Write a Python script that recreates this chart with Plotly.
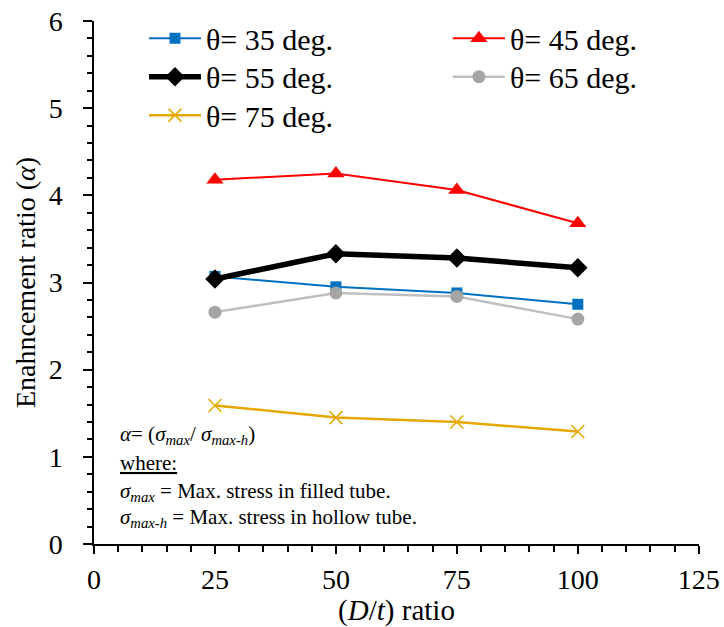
import plotly.graph_objects as go

dt_ratio = [25, 50, 75, 100]
theta35 = [3.07, 2.95, 2.88, 2.75]
theta45 = [4.18, 4.25, 4.06, 3.68]
theta55 = [3.04, 3.33, 3.28, 3.17]
theta65 = [2.66, 2.88, 2.84, 2.58]
theta75 = [1.59, 1.45, 1.40, 1.29]

x_ticks = [0, 25, 50, 75, 100, 125]
y_ticks = [0, 1, 2, 3, 4, 5, 6]

FONT = "Liberation Serif, Times New Roman, serif"

fig = go.Figure()
fig.add_trace(go.Scatter(x=dt_ratio, y=theta35, name="θ= 35 deg.", mode="lines+markers",
                         legend="legend",
                         line=dict(color="#0070C0", width=2),
                         marker=dict(symbol="square", size=11, color="#0070C0")))
fig.add_trace(go.Scatter(x=dt_ratio, y=theta45, name="θ= 45 deg.", mode="lines+markers",
                         legend="legend2",
                         line=dict(color="#FF0000", width=2),
                         marker=dict(symbol="triangle-up", size=15, color="#FF0000")))
fig.add_trace(go.Scatter(x=dt_ratio, y=theta55, name="θ= 55 deg.", mode="lines+markers",
                         legend="legend3",
                         line=dict(color="#000000", width=5.5),
                         marker=dict(symbol="diamond", size=15, color="#000000")))
fig.add_trace(go.Scatter(x=dt_ratio, y=theta65, name="θ= 65 deg.", mode="lines+markers",
                         legend="legend4",
                         line=dict(color="#BFBFBF", width=2.5),
                         marker=dict(symbol="circle", size=13, color="#A5A5A5")))
fig.add_trace(go.Scatter(x=dt_ratio, y=theta75, name="θ= 75 deg.", mode="lines+markers",
                         legend="legend5",
                         line=dict(color="#E6A800", width=2.5),
                         marker=dict(symbol="x-thin", size=13, color="#E6A800",
                                     line=dict(color="#E6A800", width=1.5))))

ann_lines = [
    "<i>α</i>= (<i>σ<sub>max</sub></i>/ <i>σ<sub>max-h</sub></i>)",
    "<u>where:</u>",
    "<i>σ<sub>max</sub></i> = Max. stress in filled tube.",
    "<i>σ<sub>max-h</sub></i> = Max. stress in hollow tube.",
]
ann_y = [0.208, 0.155, 0.0994, 0.0497]
for txt, yy in zip(ann_lines, ann_y):
    fig.add_annotation(text=txt, x=0.040, y=yy, xref="paper", yref="paper",
                       xanchor="left", yanchor="middle", showarrow=False,
                       font=dict(family=FONT, size=21, color="black"))

legend_common = dict(orientation="v", xanchor="left", yanchor="middle",
                     bgcolor="rgba(0,0,0,0)", font=dict(family=FONT, size=30),
                     itemwidth=52)
col1, col2 = 0.0826, 0.585
row1, row2, row3 = 0.967, 0.8935, 0.820

fig.update_layout(
    width=724, height=627,
    margin=dict(l=94, r=25, t=21, b=83, autoexpand=False),
    paper_bgcolor="white", plot_bgcolor="white",
    font=dict(family=FONT, size=28, color="black"),
    showlegend=True,
    legend=dict(x=col1, y=row1, **legend_common),
    legend2=dict(x=col2, y=row1, **legend_common),
    legend3=dict(x=col1, y=row2, **legend_common),
    legend4=dict(x=col2, y=row2, **legend_common),
    legend5=dict(x=col1, y=row3, **legend_common),
)
fig.update_xaxes(range=[0, 125.05], tickvals=x_ticks, showgrid=False, zeroline=False,
                 showline=True, linecolor="black", linewidth=1.5, automargin=False,
                 ticks="outside", ticklen=8, tickwidth=1.5, tickcolor="black",
                 ticklabelstandoff=2, ticklabeloverflow="allow",
                 minor=dict(dtick=5, ticks="outside", ticklen=6, tickwidth=1.5, tickcolor="black", showgrid=False),
                 title=dict(text="(<i>D</i>/<i>t</i>) ratio", font=dict(size=29), standoff=0),
                 tickfont=dict(size=28))
fig.update_yaxes(range=[0, 6], tickvals=y_ticks, showgrid=False, zeroline=False,
                 showline=True, linecolor="black", linewidth=1.5, automargin=False,
                 ticks="outside", ticklen=9, tickwidth=1.5, tickcolor="black",
                 ticklabelstandoff=15,
                 minor=dict(dtick=0.2, ticks="outside", ticklen=5, tickwidth=1.5, tickcolor="black", showgrid=False),
                 title=dict(text="Enahncement ratio (<i>α</i>)", font=dict(size=28), standoff=5),
                 tickfont=dict(size=28))

fig.write_html("out.html")
